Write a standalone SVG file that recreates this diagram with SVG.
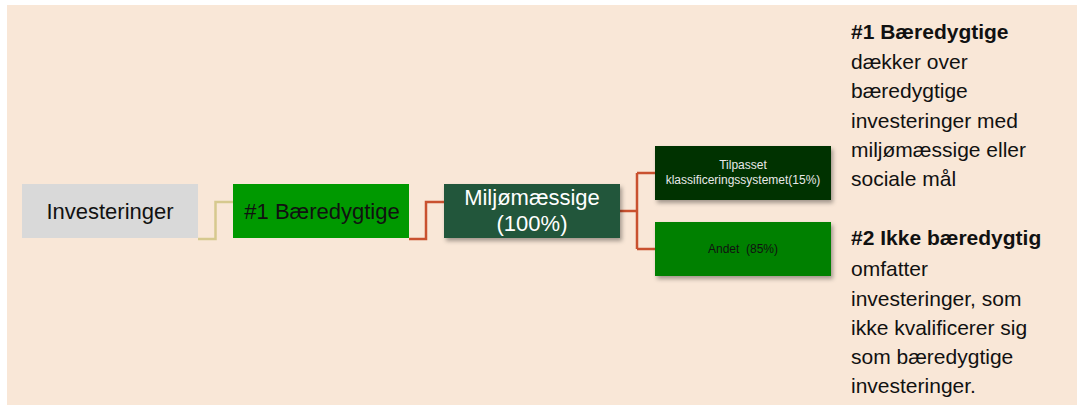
<svg xmlns="http://www.w3.org/2000/svg" width="1077" height="405" viewBox="0 0 1077 405">
<defs>
<filter id="sh" x="-10%" y="-10%" width="130%" height="140%">
<feDropShadow dx="2" dy="3" stdDeviation="2" flood-color="#000" flood-opacity="0.35"/>
</filter>
<style>
text{font-family:"Liberation Sans",Arial,sans-serif}
.big{font-size:22px;text-anchor:middle}
.small{font-size:12px;text-anchor:middle}
.side{font-size:21px;fill:#111}
.b{font-weight:bold}
.con{fill:none;stroke-width:2.5}
</style>
</defs>
<rect x="7" y="5" width="1070" height="400" fill="#f9e7d7"/>
<g id="connectors">
<path class="con" stroke="#d6c98e" d="M198 239 H215.5 V202 H233"/>
<path class="con" stroke="#c9512f" d="M409 239 H426 V202 H444"/>
<path class="con" stroke="#c9512f" d="M620 211 H637 M637 173 V249 M637 173 H655 M637 249 H655"/>
</g>
<g id="investeringer">
<rect x="22" y="184" width="176" height="54" fill="#d9d9d9"/>
<text class="big" x="110" y="218.5" fill="#111">Investeringer</text>
</g>
<g id="baeredygtige">
<rect x="233" y="184" width="176" height="54" fill="#009900"/>
<text class="big" x="322" y="218.5" fill="#111">#1 Bæredygtige</text>
</g>
<g id="miljo">
<rect x="444" y="184" width="176" height="54" fill="#24573a" filter="url(#sh)"/>
<text class="big" x="532" y="204.5" fill="#fff">Miljømæssige</text>
<text class="big" x="532" y="230.5" fill="#fff">(100%)</text>
</g>
<g id="tilpasset">
<rect x="655" y="146" width="176" height="54" fill="#003300" filter="url(#sh)"/>
<text class="small" x="743" y="168.5" fill="#e8e8e8">Tilpasset</text>
<text class="small" x="743" y="183.5" fill="#e8e8e8">klassificeringssystemet(15%)</text>
</g>
<g id="andet">
<rect x="655" y="222" width="176" height="54" fill="#008000" filter="url(#sh)"/>
<text class="small" x="743" y="253" fill="#111" xml:space="preserve">Andet  (85%)</text>
</g>
<g id="legend1">
<text class="side b" x="851" y="38.5">#1 Bæredygtige</text>
<text class="side" x="851" y="68.5">dækker over</text>
<text class="side" x="851" y="98">bæredygtige</text>
<text class="side" x="851" y="127.5">investeringer med</text>
<text class="side" x="851" y="157">miljømæssige eller</text>
<text class="side" x="851" y="186">sociale mål</text>
</g>
<g id="legend2">
<text class="side b" x="851" y="245">#2 Ikke bæredygtig</text>
<text class="side" x="851" y="276">omfatter</text>
<text class="side" x="851" y="305.5">investeringer, som</text>
<text class="side" x="851" y="334.5">ikke kvalificerer sig</text>
<text class="side" x="851" y="363.5">som bæredygtige</text>
<text class="side" x="851" y="392.5">investeringer.</text>
</g>
</svg>
